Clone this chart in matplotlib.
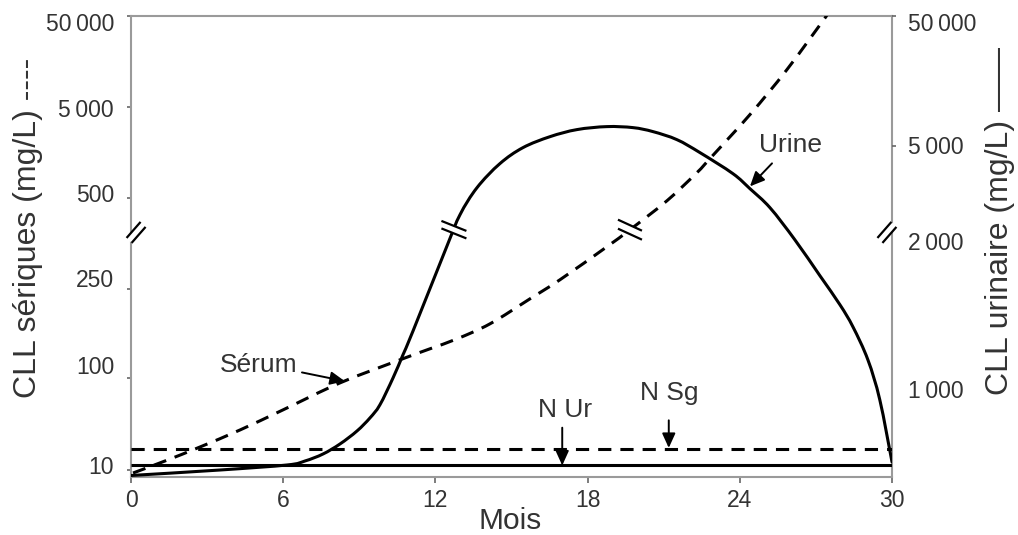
import numpy as np
import matplotlib
matplotlib.use("Agg")
import matplotlib.pyplot as plt
from matplotlib.patches import Polygon, PathPatch
from matplotlib.path import Path

plt.rcParams['font.family'] = ['Liberation Sans', 'DejaVu Sans']
plt.rcParams['lines.scale_dashes'] = False

# axe vertical schématique (coupé) : positions en % de la hauteur du graphe
mois_ticks = [0, 6, 12, 18, 24, 30]
g_labels = ['50\u2009000', '5\u2009000', '500', '250', '100', '10']
g_label_pos = [98.7, 80.1, 61.6, 43.0, 24.2, 2.6]
g_tick_pos = [100, 80.2, 60.4, 40.7, 21.3, 1.5]
d_labels = ['50\u2009000', '5\u2009000', '2\u2009000', '1\u2009000']
d_label_pos = [98.8, 72.0, 51.1, 19.1]
d_tick_pos = [100, 71.7, 19.1]

# courbe sérum (pointillés)
mois_serum = [0.08, 1.34, 2.72, 4.30, 5.99, 8.24, 10.60, 11.78, 12.85, 14.15,
              15.73, 16.91, 18.76, 19.67, 21.13, 22.31, 22.82, 24.40, 25.86, 27.43]
serum = [0.76, 3.37, 6.41, 10.11, 14.46, 20.33, 25.33, 27.72, 29.89, 33.15,
         38.59, 42.72, 49.89, 53.59, 59.89, 65.98, 69.02, 78.59, 88.37, 100.11]

# courbe urine (trait plein)
mois_urine = [0, 3.51, 6.15, 6.86, 7.57, 8.24, 8.91, 9.42, 9.81, 10.33, 10.72,
              11.12, 12.46, 12.97, 13.64, 14.54, 15.45, 16.52, 17.58, 18.76,
              19.79, 20.58, 21.52, 22.43, 23.73, 24.40, 25.19, 26.17, 27.16,
              27.95, 28.46, 29.05, 29.52, 30.0]
urine = [0.22, 1.41, 2.5, 3.37, 4.89, 7.07, 9.89, 12.72, 15.54, 21.41, 26.41,
         31.63, 50.11, 56.85, 62.72, 67.93, 71.41, 73.80, 75.33, 75.98,
         75.76, 74.89, 73.15, 70.33, 65.76, 62.50, 58.37, 51.41, 43.59,
         37.28, 32.50, 25.33, 16.63, 3.15]

n_sg = 5.9   # normale sérum
n_ur = 2.4   # normale urine

gris = '#9a9a9a'
texte = '#333333'
tirets = (0, (9.5, 6.5))


def lisse(x, y):
    # tracé lissé (Bézier de Catmull-Rom) passant par les points lus
    p = np.column_stack([x, y]).astype(float)
    p = np.vstack([p[0], p, p[-1]])
    verts = [p[1]]
    codes = [Path.MOVETO]
    for i in range(1, len(p) - 2):
        c1 = p[i] + (p[i + 1] - p[i - 1]) / 6
        c2 = p[i + 1] - (p[i + 2] - p[i]) / 6
        verts += [c1, c2, p[i + 1]]
        codes += [Path.CURVE4] * 3
    return Path(verts, codes)


fig = plt.figure(figsize=(10.18, 5.35), dpi=100)
ax = fig.add_axes([131/1018, 58.5/535, 761/1018, 460.5/535])
ax.set_xlim(0, 30)
ax.set_ylim(0, 100)
for s in ax.spines.values():
    s.set_color(gris)
    s.set_linewidth(1.5)

ax.add_patch(PathPatch(lisse(mois_urine, urine), fill=False, edgecolor='k', lw=2.2,
                       capstyle='round', zorder=3))
ax.add_patch(PathPatch(lisse(mois_serum, serum), fill=False, edgecolor='k', lw=2.2,
                       linestyle=tirets, zorder=3))
ax.hlines(n_sg, 0, 30, color='k', lw=2.2, linestyles=[tirets], zorder=3)
ax.hlines(n_ur, 0, 30, color='k', lw=2.2, zorder=3)

# ticks
ax.set_xticks(mois_ticks)
ax.tick_params(axis='x', length=4.3, width=1.2, color='#666666', pad=5,
               labelsize=16.5, labelcolor=texte)
ax.set_yticks(g_label_pos, g_labels)
ax.set_yticks(g_tick_pos, minor=True)
ax.tick_params(axis='y', which='major', length=0, pad=12.2, labelsize=16.5, labelcolor=texte)
ax.tick_params(axis='y', which='minor', length=3, width=1.2, color='#666666')

ax2 = ax.twinx()
ax2.set_ylim(0, 100)
for s in ax2.spines.values():
    s.set_visible(False)
ax2.set_yticks(d_label_pos, d_labels)
ax2.set_yticks(d_tick_pos, minor=True)
ax2.tick_params(axis='y', which='major', length=0, pad=11.5, labelsize=16.5, labelcolor=texte)
ax2.tick_params(axis='y', which='minor', length=3, width=1.2, color='#666666')

# coupures //
kx = 30 / 761
ky = 100 / 460.5

def coupure(xc, yc, hx, hy, sx, sy, lw=1.6):
    ends = []
    for s in (-1, 1):
        cx = xc + s * sx * kx
        cy = yc + s * sy * ky
        xs = [cx - hx * kx, cx + hx * kx]
        ys = [cy - hy * ky, cy + hy * ky]
        ax.plot(xs, ys, color='k', lw=lw, clip_on=False, zorder=6, solid_capstyle='butt')
        ends.append((xs, ys))
    (x1, y1), (x2, y2) = ends
    pts = [(x1[0], y1[0]), (x1[1], y1[1]), (x2[1], y2[1]), (x2[0], y2[0])]
    ax.add_patch(Polygon(pts, closed=True, facecolor='white', edgecolor='none',
                         clip_on=False, zorder=5))

coupure(12.73, 53.6, 12.5, -5, 0, 3.75)
coupure(19.67, 53.6, 12, -5.5, 0, 4.5)
coupure(0.2, 53.0, 7, 8, -2.5, 2.5)
coupure(29.8, 53.0, 7, 8, -2.5, 2.5)

# annotations
fl = dict(arrowstyle='-|>,head_length=0.55,head_width=0.25', color='k', lw=1.4,
          shrinkA=0, shrinkB=0, mutation_scale=16)
ax.text(5.05, 22.7, 'Sérum', fontsize=19, color=texte, ha='center', va='baseline')
ax.annotate('', xy=(8.43, 20.7), xytext=(6.74, 22.6), arrowprops=fl, zorder=7)
ax.text(26.0, 70.5, 'Urine', fontsize=19, color=texte, ha='center', va='baseline')
ax.annotate('', xy=(24.4, 63.0), xytext=(25.27, 68.0), arrowprops=fl, zorder=7)
ax.text(17.1, 13.0, 'N Ur', fontsize=19, color=texte, ha='center', va='baseline')
ax.annotate('', xy=(17.0, n_ur), xytext=(17.0, 10.6), arrowprops=fl, zorder=7)
ax.text(21.2, 16.6, 'N Sg', fontsize=19, color=texte, ha='center', va='baseline')
ax.annotate('', xy=(21.2, n_sg + 0.3), xytext=(21.2, 12.2), arrowprops=fl, zorder=7)

# titres d'axes
fig.text(28/1018, 1 - 228/535, 'CLL sériques (mg/L) ----', rotation=90, fontsize=23,
         color=texte, ha='center', va='center')
fig.text(1000/1018, 1 - 221/535, 'CLL urinaire (mg/L) ——', rotation=90, fontsize=23,
         color=texte, ha='center', va='center')
fig.text(510/1018, 1 - 521/535, 'Mois', fontsize=21.5, color=texte, ha='center', va='center')

fig.savefig('out.png', dpi=100)
